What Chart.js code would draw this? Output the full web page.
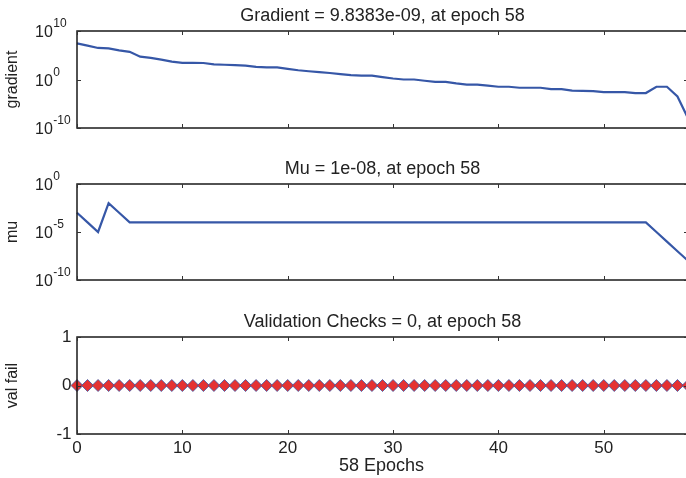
<!DOCTYPE html>
<html>
<head>
<meta charset="utf-8">
<script src="https://cdn.jsdelivr.net/npm/chart.js@4.4.1/dist/chart.umd.min.js"></script>
<style>
  html, body { margin: 0; padding: 0; background: #fff; overflow: hidden; width: 686px; height: 478px; }
  .panel { position: absolute; left: 0; }
</style>
</head>
<body>
<canvas id="c1" class="panel" width="700" height="140" style="top:0"></canvas>
<canvas id="c2" class="panel" width="700" height="150" style="top:140px"></canvas>
<canvas id="c3" class="panel" width="700" height="188" style="top:290px"></canvas>
<script>
// epochs 0..58
const epochs = [0, 1, 2, 3, 4, 5, 6, 7, 8, 9, 10, 11, 12, 13, 14, 15, 16, 17, 18, 19,
  20, 21, 22, 23, 24, 25, 26, 27, 28, 29, 30, 31, 32, 33, 34, 35, 36, 37, 38, 39,
  40, 41, 42, 43, 44, 45, 46, 47, 48, 49, 50, 51, 52, 53, 54, 55, 56, 57, 58];

// values (log scales)
const gradient = [2.9e7, 1e7, 3.2e6, 2.5e6, 1e6, 5e5, 5e4, 2.8e4, 1.3e4, 5e3,
  2.8e3, 2.6e3, 2.5e3, 1.3e3, 1.1e3, 900, 700, 400, 320, 320,
  160, 80, 50, 32, 22, 12.6, 8, 6.3, 6.3, 3.2,
  1.6, 1, 1, 0.56, 0.32, 0.32, 0.16, 0.09, 0.09, 0.056,
  0.032, 0.032, 0.02, 0.02, 0.02, 0.01, 0.01, 0.005, 0.0045, 0.004,
  0.0025, 0.0025, 0.0025, 0.0016, 0.0016, 0.032, 0.032, 3.2e-4, 9.8383e-9];

const mu = [1e-3, 1e-4, 1e-5, 1e-2, 1e-3, 1e-4, 1e-4, 1e-4, 1e-4, 1e-4,
  1e-4, 1e-4, 1e-4, 1e-4, 1e-4, 1e-4, 1e-4, 1e-4, 1e-4, 1e-4,
  1e-4, 1e-4, 1e-4, 1e-4, 1e-4, 1e-4, 1e-4, 1e-4, 1e-4, 1e-4,
  1e-4, 1e-4, 1e-4, 1e-4, 1e-4, 1e-4, 1e-4, 1e-4, 1e-4, 1e-4,
  1e-4, 1e-4, 1e-4, 1e-4, 1e-4, 1e-4, 1e-4, 1e-4, 1e-4, 1e-4,
  1e-4, 1e-4, 1e-4, 1e-4, 1e-4, 1e-5, 1e-6, 1e-7, 1e-8];

const valFail = [0, 0, 0, 0, 0, 0, 0, 0, 0, 0, 0, 0, 0, 0, 0, 0, 0, 0, 0, 0,
  0, 0, 0, 0, 0, 0, 0, 0, 0, 0, 0, 0, 0, 0, 0, 0, 0, 0, 0, 0,
  0, 0, 0, 0, 0, 0, 0, 0, 0, 0, 0, 0, 0, 0, 0, 0, 0, 0, 0];

const xTicks = [0, 10, 20, 30, 40, 50];
const gradTicks = [1e-10, 1, 1e10];
const gradTickExp = ['-10', '0', '10'];
const muTicks = [1e-10, 1e-5, 1];
const muTickExp = ['-10', '-5', '0'];
const valTicks = [-1, 0, 1];
const valTickLabels = ['-1', '0', '1'];

const FONT = '"Liberation Sans", Arial, sans-serif';
const BLUE = '#3657a7';

const pts = vals => epochs.map((e, i) => ({ x: e, y: vals[i] }));

// MATLAB style box: border, inward ticks, labels, title
const matlabAxes = {
  id: 'matlabAxes',
  afterDraw(chart, args, o) {
    const { ctx, chartArea: a } = chart;
    const xs = chart.scales.x, ys = chart.scales.y;
    ctx.save();
    ctx.strokeStyle = '#1a1a1a';
    ctx.lineWidth = 1.5;
    ctx.strokeRect(a.left, a.top, a.right - a.left, a.bottom - a.top);
    ctx.lineWidth = 1;
    ctx.strokeStyle = '#333';
    ctx.beginPath();
    xTicks.forEach(t => {
      const px = Math.round(xs.getPixelForValue(t)) + 0.5;
      ctx.moveTo(px, a.top); ctx.lineTo(px, a.top + 4);
      ctx.moveTo(px, a.bottom); ctx.lineTo(px, a.bottom - 4);
    });
    o.yTicks.forEach(t => {
      const py = Math.round(ys.getPixelForValue(t)) + 0.5;
      ctx.moveTo(a.left, py); ctx.lineTo(a.left + 4, py);
      ctx.moveTo(a.right, py); ctx.lineTo(a.right - 4, py);
    });
    ctx.stroke();

    ctx.fillStyle = '#222';
    // y tick labels
    o.yTicks.forEach((t, i) => {
      const py = ys.getPixelForValue(t);
      if (o.yExp) {
        ctx.font = '16px ' + FONT;
        ctx.textAlign = 'left';
        ctx.textBaseline = 'middle';
        ctx.fillText('10', 35, py + 2);
        const w = ctx.measureText('10').width;
        ctx.font = '12px ' + FONT;
        ctx.fillText(o.yExp[i], 35 + w + 0.5, py - 7);
      } else {
        ctx.font = '17px ' + FONT;
        ctx.textAlign = 'right';
        ctx.textBaseline = 'middle';
        ctx.fillText(o.yLabels[i], 71.5, py);
      }
    });
    // x tick labels
    if (o.xLabels) {
      ctx.font = '17px ' + FONT;
      ctx.textAlign = 'center';
      ctx.textBaseline = 'top';
      xTicks.forEach(t => ctx.fillText(String(t), xs.getPixelForValue(t), a.bottom + 6));
      ctx.font = '18px ' + FONT;
      ctx.fillText(o.xLabel, (a.left + a.right) / 2 - 1, a.bottom + 23);
    }
    // title
    ctx.font = '18px ' + FONT;
    ctx.textAlign = 'center';
    ctx.textBaseline = 'alphabetic';
    ctx.fillText(o.title, (a.left + a.right) / 2, a.top - 10);
    // y label
    ctx.translate(13, (a.top + a.bottom) / 2);
    ctx.rotate(-Math.PI / 2);
    ctx.textBaseline = 'middle';
    ctx.font = '16px ' + FONT;
    ctx.fillText(o.yLabel, 0, 0);
    ctx.restore();
  }
};

function makeChart(id, data, yScale, pad, axesOpts, extra) {
  return new Chart(document.getElementById(id), {
    type: 'line',
    data: {
      datasets: [Object.assign({
        data: data,
        borderColor: BLUE,
        borderWidth: 2.2,
        pointRadius: 0,
        tension: 0,
        clip: false
      }, extra || {})]
    },
    options: {
      responsive: false,
      animation: false,
      layout: { padding: pad },
      plugins: { legend: { display: false }, tooltip: { enabled: false }, matlabAxes: axesOpts },
      scales: {
        x: { type: 'linear', min: 0, max: 58, display: false },
        y: Object.assign({ display: false }, yScale)
      }
    },
    plugins: [matlabAxes]
  });
}

makeChart('c1', pts(gradient), { type: 'logarithmic', min: 1e-10, max: 1e10 },
  { left: 77, right: 12, top: 31, bottom: 12 },
  { title: 'Gradient = 9.8383e-09, at epoch 58', yLabel: 'gradient', yTicks: gradTicks, yExp: gradTickExp });

makeChart('c2', pts(mu), { type: 'logarithmic', min: 1e-10, max: 1 },
  { left: 77, right: 12, top: 44, bottom: 10 },
  { title: 'Mu = 1e-08, at epoch 58', yLabel: 'mu', yTicks: muTicks, yExp: muTickExp });

makeChart('c3', pts(valFail), { type: 'linear', min: -1, max: 1 },
  { left: 77, right: 12, top: 47, bottom: 44 },
  { title: 'Validation Checks = 0, at epoch 58', yLabel: 'val fail', yTicks: valTicks, yLabels: valTickLabels,
    xLabels: true, xLabel: '58 Epochs' },
  { borderWidth: 1.5, pointRadius: 6, pointStyle: 'rectRot', pointBackgroundColor: '#e53232',
    pointBorderColor: BLUE, pointBorderWidth: 0.8 });
</script>
</body>
</html>
